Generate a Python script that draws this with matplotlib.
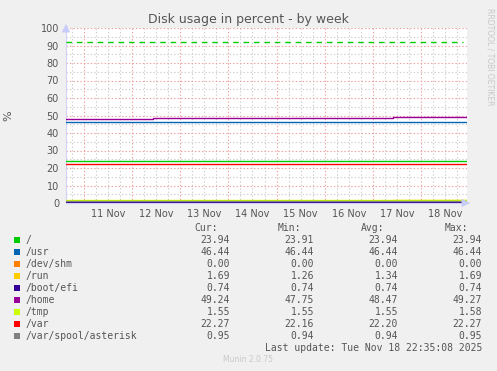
import matplotlib
matplotlib.use("Agg")
import matplotlib.pyplot as plt
import matplotlib.dates as mdates
from matplotlib.ticker import FuncFormatter, MultipleLocator
from matplotlib.patches import Rectangle
import numpy as np

plt.rcParams['lines.scale_dashes'] = False

# ---- data ----
times = np.array(["2025-11-10T15:00", "2025-11-12T10:15", "2025-11-17T10:00",
                  "2025-11-18T22:35"], dtype="datetime64[m]")
labels = ["/", "/usr", "/dev/shm", "/run", "/boot/efi", "/home", "/tmp", "/var",
          "/var/spool/asterisk"]
colors = ["#00CC00", "#0066B3", "#FF8000", "#FFCC00", "#330099", "#990099",
          "#CCFF00", "#FF0000", "#808080"]
s_root = [23.91, 23.94, 23.94, 23.94]
s_usr = [46.44, 46.44, 46.44, 46.44]
s_shm = [0.00, 0.00, 0.00, 0.00]
s_run = [1.26, 1.26, 1.69, 1.69]
s_efi = [0.74, 0.74, 0.74, 0.74]
s_home = [47.75, 48.49, 49.27, 49.24]
s_tmp = [1.55, 1.55, 1.55, 1.55]
s_var = [22.16, 22.20, 22.27, 22.27]
s_ast = [0.94, 0.94, 0.95, 0.95]
series = [s_root, s_usr, s_shm, s_run, s_efi, s_home, s_tmp, s_var, s_ast]
warning_level = 92

cur = ["23.94", "46.44", "0.00", "1.69", "0.74", "49.24", "1.55", "22.27", "0.95"]
mins = ["23.91", "46.44", "0.00", "1.26", "0.74", "47.75", "1.55", "22.16", "0.94"]
avgs = ["23.94", "46.44", "0.00", "1.34", "0.74", "48.47", "1.55", "22.20", "0.94"]
maxs = ["23.94", "46.44", "0.00", "1.69", "0.74", "49.27", "1.58", "22.27", "0.95"]

xlim = (np.datetime64("2025-11-10T15:02"), np.datetime64("2025-11-18T22:57"))

# ---- figure ----
W, H = 497, 371
fig = plt.figure(figsize=(W / 100, H / 100), dpi=100, facecolor="#F0F0F0")
ax = fig.add_axes([66 / W, 1 - 203 / H, (467 - 66) / W, (203 - 28) / H])
ax.set_facecolor("white")

txtc = "#555555"

t = times.astype("datetime64[s]").astype(object)
tx = mdates.date2num(t)
for s, c in zip(series, colors):
    ax.plot(tx, s, drawstyle="steps-post", color=c, lw=1.0, zorder=3)
ax.axhline(warning_level, xmin=0, xmax=0.99, color="#00CC00", lw=1.0,
           dashes=(4, 3.5), zorder=3)

ax.set_xlim(mdates.date2num(xlim[0].astype(object)), mdates.date2num(xlim[1].astype(object)))
ax.set_ylim(0, 100)

ax.yaxis.set_major_locator(MultipleLocator(10))
ax.yaxis.set_minor_locator(MultipleLocator(5))
ax.xaxis.set_major_locator(mdates.DayLocator())
ax.xaxis.set_minor_locator(mdates.HourLocator(byhour=[6, 12, 18]))
ax.xaxis.set_major_formatter(FuncFormatter(lambda v, p: ""))


def minor_fmt(v, p):
    d = mdates.num2date(v)
    return d.strftime("%d %b").lstrip("0") if d.hour == 12 else ""


ax.xaxis.set_minor_formatter(FuncFormatter(minor_fmt))

ax.grid(which="major", color="#F0A0A0", lw=0.8, linestyle=(0, (1, 1.5)), zorder=1)
ax.grid(which="minor", color="#CFCFCF", lw=0.8, linestyle=(0, (1, 1.5)), zorder=1)
ax.set_axisbelow(True)

ax.tick_params(which="both", length=0, colors=txtc, labelsize=7)
ax.tick_params(axis="y", pad=5)
ax.tick_params(axis="x", which="minor", pad=4)

for sp in ["top", "right"]:
    ax.spines[sp].set_visible(False)
ax.spines["left"].set_color("#D0D0F8")
ax.spines["bottom"].set_color("#D0D0F8")
ax.spines["left"].set_linewidth(0.8)
ax.spines["bottom"].set_linewidth(0.8)

# axis arrows
ax.annotate("", xy=(0, 1.04), xytext=(0, 0.99), xycoords="axes fraction",
            arrowprops=dict(arrowstyle="-|>,head_width=0.25,head_length=0.5",
                            color="#C8CCF8", lw=0.8), annotation_clip=False)
ax.annotate("", xy=(1.015, 0), xytext=(0.99, 0), xycoords="axes fraction",
            arrowprops=dict(arrowstyle="-|>,head_width=0.25,head_length=0.5",
                            color="#C8CCF8", lw=0.8), annotation_clip=False)

ax.set_ylabel("%", color=txtc, fontsize=8, labelpad=20)

fig.text(248 / W, 1 - 19.5 / H, "Disk usage in percent - by week", ha="center",
         va="center", fontsize=9, color=txtc)
fig.text(490 / W, 1 - 57 / H, "RRDTOOL / TOBI OETIKER", rotation=-90, ha="center",
         va="center", fontsize=5.5, color="#C8C8C8")

# ---- legend ----
mono = "DejaVu Sans Mono"
fs = 7
def fy(y):
    return 1 - y / H

for hdr, xr in zip(["Cur:", "Min:", "Avg:", "Max:"], [218, 301, 384, 468]):
    fig.text(xr / W, fy(228), hdr, ha="right", va="center", family=mono,
             fontsize=fs, color=txtc)
for i, (lab, c) in enumerate(zip(labels, colors)):
    y = 240 + 12 * i
    fig.patches.append(Rectangle((14 / W, fy(y + 3)), 6 / W, 6 / H, transform=fig.transFigure,
                                 facecolor=c, edgecolor="none", figure=fig))
    fig.text(26 / W, fy(y), lab, ha="left", va="center", family=mono, fontsize=fs,
             color=txtc)
    for vals, xr in zip([cur, mins, avgs, maxs], [230, 314, 398, 482]):
        fig.text(xr / W, fy(y), vals[i], ha="right", va="center", family=mono,
                 fontsize=fs, color=txtc)

fig.text(482 / W, fy(348), "Last update: Tue Nov 18 22:35:08 2025", ha="right",
         va="center", family=mono, fontsize=fs, color=txtc)
fig.text(248 / W, fy(360), "Munin 2.0.75", ha="center", va="center",
         fontsize=5.5, color="#C8C8C8")

fig.savefig("out.png", dpi=100, facecolor=fig.get_facecolor())
